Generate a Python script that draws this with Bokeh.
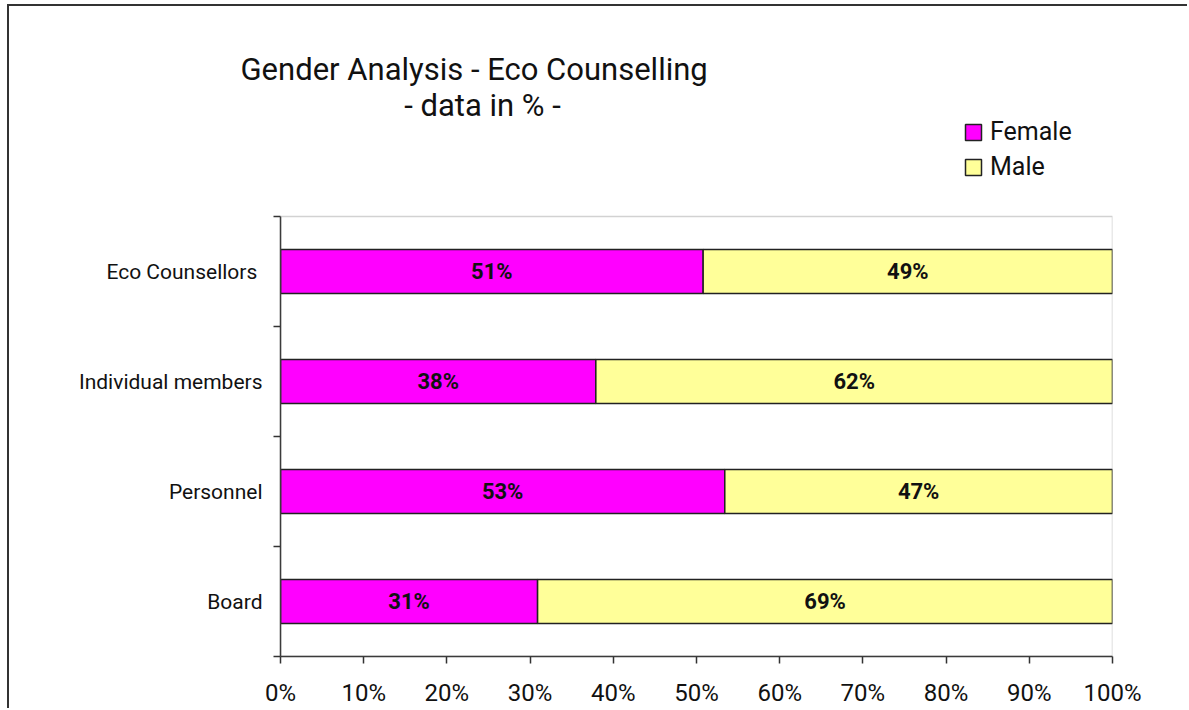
from bokeh.plotting import figure
from bokeh.models import (Range1d, FixedTicker, Legend, LegendItem, Title, Label, ColumnDataSource,
                          LabelSet, BoxAnnotation)
from bokeh.embed import file_html
from bokeh.resources import INLINE
from bokeh.core.properties import value

categories = ["Board", "Personnel", "Individual members", "Eco Counsellors "]
female = [30.9, 53.4, 37.9, 50.8]
male = [69.1, 46.6, 62.1, 49.2]
x_ticks = [0, 10, 20, 30, 40, 50, 60, 70, 80, 90, 100]
x_tick_labels = ["0%", "10%", "20%", "30%", "40%", "50%", "60%", "70%", "80%", "90%", "100%"]
title_line1 = "Gender Analysis - Eco Counselling"
title_line2 = "- data in % -"

FONT = "Roboto"
INK = "#111111"

ypos = [i + 0.5 for i in range(len(categories))]
n = len(categories)
m_end = [f + m for f, m in zip(female, male)]
src = ColumnDataSource(dict(
    y=ypos, f0=[0] * n, f1=female, m1=m_end,
    fmid=[f / 2 for f in female], mmid=[f + m / 2 for f, m in zip(female, male)],
    flab=[f"{round(v)}%" for v in female], mlab=[f"{round(v)}%" for v in male],
))

# frame: x 280..1112, y 87..656 (categories occupy 216..656 -> 110 px per category)
PX = 110.0
y_top = n + (216 - 87) / PX
p = figure(width=1180, height=704, output_backend="svg", toolbar_location=None,
           x_range=Range1d(0, 100), y_range=Range1d(0, y_top),
           min_border_left=271, min_border_right=77, min_border_top=81, min_border_bottom=54)
p.styles = {"border-top": "2px solid #333", "border-left": "2px solid #333",
            "margin-left": "7px", "margin-top": "4px"}
p.title.visible = False
p.xgrid.visible = False
p.ygrid.visible = False
p.outline_line_color = None
p.background_fill_color = "white"
p.border_fill_color = "white"

# grey plot-area outline (top and right)
p.add_layout(BoxAnnotation(top=n, fill_alpha=0, line_color="#6a6a6a", line_width=1.5))

rf = p.hbar(y="y", left="f0", right="f1", height=0.4, source=src,
            fill_color="#FF00FF", line_color="#222222", line_width=1.5)
rm = p.hbar(y="y", left="f1", right="m1", height=0.4, source=src,
            fill_color="#FFFF99", line_color="#222222", line_width=1.5)

for xcol, tcol in (("fmid", "flab"), ("mmid", "mlab")):
    p.add_layout(LabelSet(x=xcol, y="y", text=tcol, source=src, text_align="center",
                          text_baseline="middle", text_font=value(FONT),
                          text_font_size="22px", text_font_style="bold", text_color=INK))

xa = p.xaxis[0]
xa.ticker = FixedTicker(ticks=x_ticks, minor_ticks=[])
xa.major_label_overrides = {t: l for t, l in zip(x_ticks, x_tick_labels)}
xa.major_tick_out = 7
xa.major_tick_in = 0
xa.minor_tick_out = 0
xa.axis_line_color = "#333333"
xa.axis_line_width = 1.5
xa.major_tick_line_color = "#333333"
xa.major_tick_line_width = 1.5
xa.major_label_text_font = FONT
xa.major_label_text_font_size = "24px"
xa.major_label_text_color = INK
xa.major_label_standoff = 15

ya = p.yaxis[0]
ya.bounds = (0, n)
ya.ticker = FixedTicker(ticks=ypos, minor_ticks=list(range(n + 1)))
ya.major_label_overrides = {t: l for t, l in zip(ypos, categories)}
ya.major_tick_out = 0
ya.major_tick_in = 0
ya.minor_tick_out = 7
ya.minor_tick_in = 0
ya.minor_tick_line_color = "#333333"
ya.minor_tick_line_width = 1.5
ya.axis_line_color = "#333333"
ya.axis_line_width = 1.5
ya.major_label_text_font = FONT
ya.major_label_text_font_size = "21px"
ya.major_label_text_color = INK
ya.major_label_standoff = 11

legend = Legend(items=[LegendItem(label="Female", renderers=[rf]),
                       LegendItem(label="Male", renderers=[rm])],
                location=(683, 475), orientation="vertical")
legend.border_line_alpha = 0
legend.background_fill_alpha = 0
legend.padding = 0
legend.margin = 0
legend.spacing = 6
legend.glyph_width = 20
legend.glyph_height = 20
legend.label_height = 29
legend.label_standoff = 7
legend.label_text_font = FONT
legend.label_text_font_size = "25px"
legend.label_text_color = INK
p.add_layout(legend)

# first title line sits above the plot area (it reaches left of it)
t1 = Title(text=title_line1, align="left", offset=-40, text_font=FONT, text_font_size="31px",
           text_font_style="normal", text_color=INK, standoff=0)
p.add_layout(t1, "above")
# second title line lies within the plot area's horizontal extent
p.add_layout(Label(x=(482 - 280) / 8.32, y=n + (216 - 105) / PX, text=title_line2,
                   text_align="center", text_baseline="middle", text_font=FONT,
                   text_font_size="31px", text_color=INK))

open("out.html", "w").write(file_html(p, INLINE))
